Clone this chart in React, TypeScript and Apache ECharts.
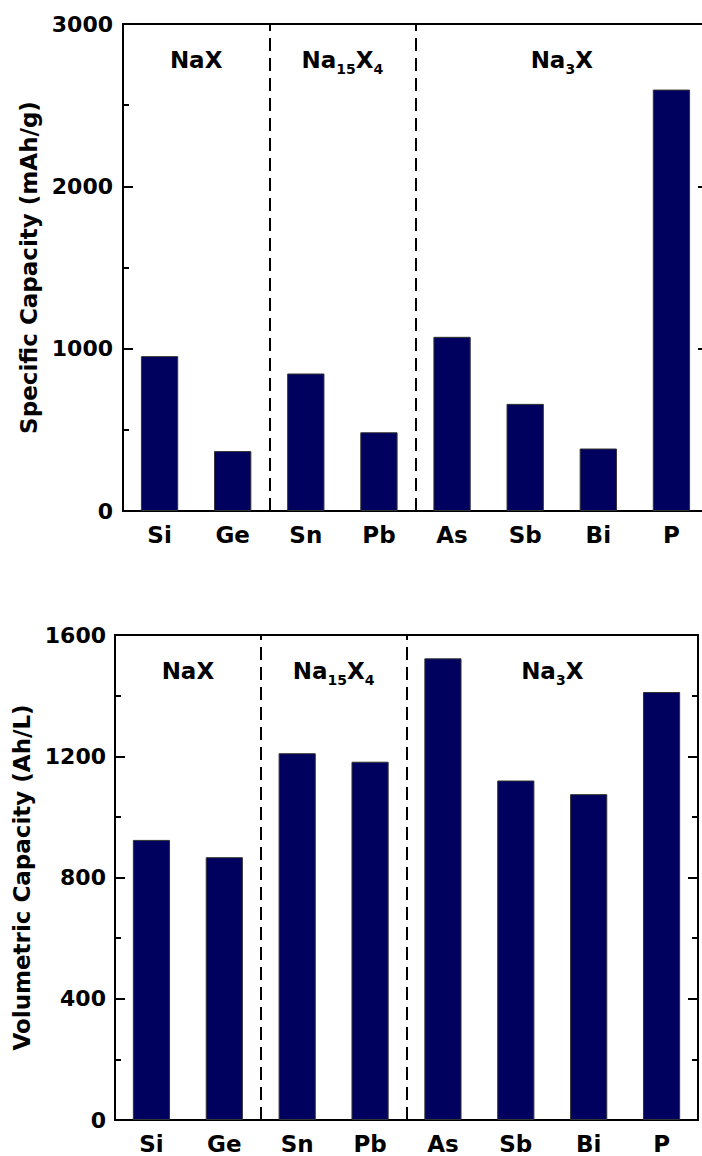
import React, { useEffect, useRef } from "react";
import * as echarts from "echarts";

const elements = ["Si", "Ge", "Sn", "Pb", "As", "Sb", "Bi", "P"];
const specificCapacity = [954, 369, 847, 485, 1073, 660, 385, 2596];
const volumetricCapacity = [924, 867, 1210, 1182, 1523, 1120, 1075, 1412];
const groupLabels = ["NaX", "Na{sub|15}X{sub|4}", "Na{sub|3}X"];
const groupRanges = [
  [0, 2],
  [2, 4],
  [4, 8],
];
const groupBoundaries = [2, 4];
const specificTicks = { min: 0, max: 3000, interval: 1000 };
const volumetricTicks = { min: 0, max: 1600, interval: 400 };

const FONT = '"DejaVu Sans", sans-serif';
const BAR_COLOR = "#00005f";

export default function App() {
  const ref = useRef<HTMLDivElement>(null);

  useEffect(() => {
    if (!ref.current) return;
    const chart = echarts.init(ref.current, undefined, { renderer: "svg" });

    const catAxis = (gridIndex: number) => ({
      type: "category",
      gridIndex,
      data: elements,
      position: "bottom",
      axisLine: { show: true, lineStyle: { color: "#000", width: 2 } },
      axisTick: { show: false },
      axisLabel: {
        color: "#000",
        fontFamily: FONT,
        fontWeight: "bold",
        fontSize: 23,
        margin: 12,
      },
      splitLine: { show: false },
    });
    const hiddenX = (gridIndex: number) => ({
      type: "value",
      gridIndex,
      min: 0,
      max: elements.length,
      show: false,
    });
    const yAxis = (
      gridIndex: number,
      t: { min: number; max: number; interval: number },
      side: "left" | "right",
      name: string,
      nameGap: number,
      labelMargin: number
    ) => ({
      type: "value",
      gridIndex,
      position: side,
      min: t.min,
      max: t.max,
      interval: t.interval,
      name: side === "left" ? name : "",
      nameLocation: "middle",
      nameGap,
      nameRotate: 90,
      nameTextStyle: {
        color: "#000",
        fontFamily: FONT,
        fontWeight: "bold",
        fontSize: 23,
      },
      axisLine: { show: true, lineStyle: { color: "#000", width: 2 } },
      axisTick: { show: true, inside: true, length: 10, lineStyle: { color: "#000", width: 2 } },
      minorTick: { show: true, splitNumber: 2, length: 6, lineStyle: { color: "#000", width: 2 } },
      axisLabel: {
        show: side === "left",
        color: "#000",
        fontFamily: FONT,
        fontWeight: "bold",
        fontSize: 22,
        margin: labelMargin,
        formatter: (v: number) => String(v),
      },
      splitLine: { show: false },
    });

    const markers = () => ({
      markLine: {
        silent: true,
        symbol: ["none", "none"],
        label: { show: false },
        lineStyle: { color: "#000", width: 2, type: [13, 7] },
        data: groupBoundaries.map((b) => ({ xAxis: b })),
      },
      markArea: {
        silent: true,
        itemStyle: { color: "rgba(0,0,0,0)" },
        label: {
          show: true,
          position: "insideTop",
          offset: [0, 15],
          color: "#000",
          fontFamily: FONT,
          fontWeight: "bold",
          fontSize: 23,
          lineHeight: 32,
          rich: {
            sub: {
              color: "#000",
              fontFamily: FONT,
              fontWeight: "bold",
              fontSize: 14,
              lineHeight: 14,
              verticalAlign: "bottom",
            },
          },
        },
        data: groupRanges.map((r, i) => [
          { xAxis: r[0], name: groupLabels[i] },
          { xAxis: r[1] },
        ]),
      },
    });

    const barSeries = (xAxisIndex: number, yAxisIndex: number, data: number[]) => ({
      type: "bar",
      xAxisIndex,
      yAxisIndex,
      data,
      barWidth: "51%",
      itemStyle: { color: BAR_COLOR, borderColor: "#333", borderWidth: 1 },
      z: 3,
    });

    const gridBase = {
      show: true,
      borderColor: "#000",
      borderWidth: 2,
      backgroundColor: "transparent",
      containLabel: false,
      outerBoundsMode: "none",
    };

    chart.setOption({
      animation: false,
      grid: [
        { ...gridBase, left: 123, top: 24, width: 585, height: 487 },
        { ...gridBase, left: 115, top: 635, width: 583, height: 485 },
      ],
      xAxis: [catAxis(0), hiddenX(0), catAxis(1), hiddenX(1)],
      yAxis: [
        yAxis(0, specificTicks, "left", "Specific Capacity (mAh/g)", 68, 10),
        yAxis(0, specificTicks, "right", "", 0, 10),
        yAxis(1, volumetricTicks, "left", "Volumetric Capacity (Ah/L)", 67, 9),
        yAxis(1, volumetricTicks, "right", "", 0, 9),
      ],
      series: [
        barSeries(0, 0, specificCapacity),
        { type: "line", xAxisIndex: 1, yAxisIndex: 0, data: [], ...markers() },
        barSeries(2, 2, volumetricCapacity),
        { type: "line", xAxisIndex: 3, yAxisIndex: 2, data: [], ...markers() },
      ],
    });

    return () => chart.dispose();
  }, []);

  return (
    <div
      ref={ref}
      style={{ position: "absolute", left: 0, top: 0, width: 702, height: 1156, background: "#fff" }}
    />
  );
}
